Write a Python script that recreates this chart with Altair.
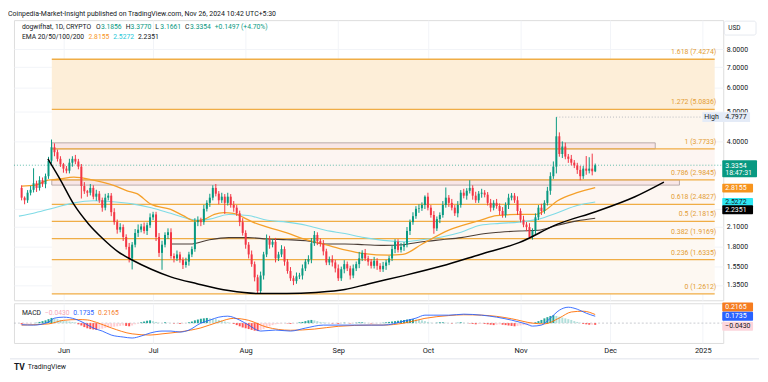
import altair as alt
import numpy as np
import pandas as pd

# ---------------------------------------------------------------- data
START = "2024-05-18"          # first daily candle
first_open = 2.81
closes = [
    2.61, 2.56, 2.71, 2.77, 2.91, 2.81, 2.98, 2.89, 3.07, 3.45,
    3.82, 3.68, 3.50, 3.36, 3.25, 3.20, 3.40, 3.50, 3.43, 3.30,
    2.85, 2.74, 2.71, 2.81, 2.63, 2.69, 2.56, 2.42, 2.61, 2.65,
    2.34, 2.17, 2.05, 2.09, 1.94, 1.80, 1.65, 1.83, 2.00, 2.05,
    2.10, 2.03, 2.12, 2.25, 2.30, 1.94, 1.72, 1.83, 1.97, 2.01,
    1.68, 1.65, 1.70, 1.63, 1.57, 1.61, 1.70, 1.77, 2.17, 2.20,
    2.17, 2.40, 2.51, 2.61, 2.81, 2.69, 2.56, 2.63, 2.51, 2.63,
    2.47, 2.42, 2.32, 2.17, 2.00, 1.83, 1.70, 1.58, 1.43, 1.29,
    1.45, 1.70, 1.90, 1.83, 1.87, 1.65, 1.70, 1.77, 1.61, 1.50,
    1.42, 1.39, 1.44, 1.45, 1.53, 1.61, 1.64, 1.85, 1.97, 1.88,
    1.84, 1.74, 1.60, 1.64, 1.60, 1.53, 1.42, 1.52, 1.58, 1.53,
    1.45, 1.53, 1.58, 1.65, 1.72, 1.65, 1.61, 1.56, 1.62, 1.56,
    1.52, 1.56, 1.60, 1.65, 1.77, 1.87, 1.76, 1.80, 1.83, 2.03,
    2.17, 2.27, 2.40, 2.41, 2.47, 2.63, 2.42, 2.29, 2.07, 2.22,
    2.29, 2.47, 2.61, 2.51, 2.42, 2.32, 2.47, 2.71, 2.65, 2.75,
    2.81, 2.65, 2.56, 2.69, 2.71, 2.67, 2.51, 2.42, 2.51, 2.45,
    2.36, 2.29, 2.47, 2.61, 2.65, 2.56, 2.36, 2.21, 2.13, 2.09,
    1.94, 2.03, 2.25, 2.42, 2.36, 2.51, 2.75, 3.07, 3.30, 4.15,
    3.63, 3.84, 3.56, 3.50, 3.40, 3.33, 3.22, 3.07, 3.25, 3.20,
    3.25, 3.1856, 3.3354,
]
upper_wick_pct = [
    2, 1, 2, 3, 12, 2, 3, 2, 2, 3,
    6, 3, 2, 2, 1, 2, 3, 2, 3, 2,
    2, 3, 1, 3, 2, 3, 2, 2, 3, 2,
    2, 3, 2, 3, 2, 2, 3, 2, 3, 4,
    2, 3, 2, 3, 2, 2, 3, 3, 2, 3,
    3, 2, 3, 2, 2, 3, 2, 2, 3, 3,
    2, 3, 2, 3, 2, 3, 2, 3, 2, 3,
    2, 3, 2, 2, 3, 2, 2, 3, 2, 2,
    3, 2, 4, 3, 2, 3, 2, 3, 2, 2,
    3, 2, 3, 2, 3, 2, 3, 4, 3, 2,
    2, 3, 2, 2, 3, 2, 3, 2, 3, 2,
    2, 3, 2, 5, 2, 3, 2, 2, 3, 2,
    2, 3, 2, 2, 3, 2, 2, 3, 2, 3,
    2, 3, 2, 3, 2, 1, 3, 2, 3, 2,
    2, 3, 8, 2, 3, 2, 3, 2, 3, 2,
    6, 2, 3, 2, 3, 2, 2, 3, 2, 3,
    2, 3, 2, 3, 2, 2, 3, 2, 3, 2,
    3, 2, 3, 2, 3, 2, 3, 3, 4, 15.6,
    3, 4, 3, 2, 3, 2, 2, 3, 2, 10,
    9, 12, 1.25,
]
lower_wick_pct = [
    2, 3, 2, 2, 2, 3, 2, 2, 3, 2,
    2, 3, 2, 2, 3, 2, 2, 3, 2, 2,
    9, 2, 3, 2, 2, 3, 2, 3, 2, 2,
    3, 2, 3, 2, 3, 2, 3, 8, 2, 3,
    2, 2, 3, 2, 2, 3, 3, 12, 2, 3,
    2, 3, 2, 2, 3, 2, 3, 2, 2, 3,
    3, 2, 2, 3, 2, 2, 3, 2, 8, 2,
    2, 3, 2, 3, 2, 3, 3, 2, 3, 2.2,
    2, 3, 2, 3, 2, 3, 2, 2, 3, 2,
    2, 3, 2, 2, 3, 2, 2, 3, 2, 3,
    2, 3, 2, 2, 3, 3, 2, 2, 3, 2,
    3, 2, 2, 3, 2, 2, 3, 2, 2, 3,
    2, 2, 3, 2, 2, 3, 2, 2, 3, 2,
    3, 2, 2, 3, 2, 3, 2, 2, 4, 2,
    3, 2, 2, 3, 2, 2, 3, 2, 2, 3,
    2, 3, 2, 2, 3, 2, 2, 3, 2, 2,
    3, 2, 2, 3, 2, 2, 3, 2, 2, 3,
    1, 2, 3, 2, 3, 2, 2, 3, 2, 5,
    2, 3, 2, 3, 2, 2, 3, 3, 2, 3,
    2, 3, 0.6,
]

ema_orange_days = [0, 4.6, 8.8, 12, 17.5, 24, 30.5, 35.3, 38.6, 43.4, 49.9, 54.1, 58, 61.3, 64.5,
                   67.7, 70.9, 74.2, 77.4, 82.3, 88.8, 95.3, 101.7, 108.2, 114.7, 122.8, 127.6,
                   134.1, 142.8, 153.5, 159, 166.5, 172, 175.2, 179.4, 185.9, 192]
ema_orange_vals = [2.85, 2.87, 2.98, 3.00, 3.05, 2.98, 2.87, 2.75, 2.69, 2.48, 2.39, 2.28, 2.19, 2.22, 2.30,
                   2.33, 2.32, 2.25, 2.17, 2.09, 2.00, 1.90, 1.83, 1.76, 1.71, 1.69, 1.70,
                   1.84, 2.04, 2.20, 2.28, 2.30, 2.30, 2.37, 2.55, 2.71, 2.8155]
ema_cyan_days = [-0.9, 4.6, 11.1, 17.5, 24, 30.5, 37, 43.4, 49.9, 56.4, 59.6, 62.9, 69.3, 75.8, 82.3,
                 88.8, 95.2, 101.7, 108.2, 114.7, 121.1, 127.6, 134.1, 140.6, 147.1, 153.5, 160,
                 166.5, 173, 179.4, 185.9, 192]
ema_cyan_vals = [2.27, 2.33, 2.42, 2.51, 2.55, 2.53, 2.49, 2.42, 2.32, 2.22, 2.20, 2.22, 2.30, 2.28, 2.20,
                 2.17, 2.12, 2.04, 1.99, 1.93, 1.89, 1.87, 1.90, 1.94, 2.01, 2.12, 2.15,
                 2.17, 2.22, 2.33, 2.46, 2.5272]
ema_dark_days = [49.9, 56.4, 62.9, 69.3, 75.8, 82.3, 88.8, 95.2, 101.7, 108.2, 114.7, 121.1, 127.6,
                 134.1, 140.6, 147.1, 153.5, 160, 166.5, 173, 179.4, 185.9, 192]
ema_dark_vals = [1.84, 1.84, 1.90, 1.93, 1.93, 1.91, 1.90, 1.885, 1.84, 1.84, 1.83, 1.82, 1.83,
                 1.87, 1.90, 1.93, 1.98, 2.01, 2.03, 2.04, 2.12, 2.19, 2.2351]

curve_days = [8.8, 12.7, 17.5, 22.4, 27.3, 32.1, 37, 43.4, 49.9, 58.7, 69.3, 79, 88.8, 98.5, 108.2,
              116.3, 127.6, 140.6, 153.5, 166.5, 179.4, 192.4, 205.3, 215]
curve_vals = [3.50, 3.02, 2.48, 2.14, 1.91, 1.74, 1.63, 1.52, 1.435, 1.363, 1.294, 1.266, 1.266, 1.276,
              1.304, 1.363, 1.446, 1.557, 1.70, 1.858, 2.137, 2.352, 2.628, 2.935]

macd_days = [0, 4, 9, 11, 14, 18, 21, 24, 27, 30, 34, 37, 40, 43, 47, 50, 53, 56, 60, 63, 66, 69, 73,
             76, 80, 85, 90, 95, 101, 106, 112, 117, 121, 128, 132, 135, 138, 143, 148, 154, 159, 164,
             169, 171, 174, 177, 180, 183, 186, 189, 192]
macd_vals = [-0.04, -0.05, 0.025, 0.125, 0.15, 0.10, 0.0, -0.125, -0.2, -0.3, -0.35, -0.375, -0.325,
             -0.25, -0.2, -0.2, -0.225, -0.175, 0.0, 0.075, 0.15, 0.175, 0.075, -0.05, -0.2, -0.175,
             -0.2, -0.125, -0.05, -0.05, -0.05, -0.05, -0.05, 0.05, 0.125, 0.2, 0.2, 0.2, 0.225, 0.2,
             0.15, 0.075, -0.025, -0.075, -0.05, 0.125, 0.325, 0.4, 0.35, 0.25, 0.1735]
signal_days = [0, 9, 14, 19, 22, 25, 30, 37, 43, 47, 53, 60, 66, 71, 76, 82, 90, 98, 106, 117, 121,
               128, 135, 143, 148, 154, 159, 164, 171, 175, 180, 184, 188, 192]
signal_vals = [-0.05, -0.02, 0.07, 0.09, 0.08, 0.02, -0.12, -0.27, -0.30, -0.27, -0.22, -0.12, 0.03,
               0.12, 0.07, -0.10, -0.18, -0.15, -0.08, -0.05, -0.05, 0.0, 0.12, 0.19, 0.21, 0.20,
               0.17, 0.11, 0.0, -0.02, 0.13, 0.28, 0.30, 0.2165]
hist_vals = [
    -0.03, -0.02, -0.02, -0.01, 0.0, 0.01, 0.03, 0.05, 0.07, 0.10,
    0.13, 0.12, 0.10, 0.08, 0.06, 0.05, 0.04, 0.03, 0.02, -0.03,
    -0.06, -0.10, -0.13, -0.15, -0.16, -0.17, -0.15, -0.14, -0.12, -0.11,
    -0.10, -0.09, -0.08, -0.07, -0.06, -0.07, -0.08, -0.06, -0.03, -0.01,
    0.02, 0.04, 0.06, 0.07, 0.05, 0.03, 0.01, 0.0, 0.02, 0.01,
    0.0, -0.01, -0.01, -0.02, -0.01, 0.0, 0.02, 0.04, 0.07, 0.09,
    0.11, 0.12, 0.13, 0.12, 0.11, 0.10, 0.08, 0.06, 0.04, 0.02,
    0.0, -0.02, -0.05, -0.08, -0.11, -0.13, -0.15, -0.17, -0.19, -0.20,
    -0.18, -0.15, -0.12, -0.08, -0.05, -0.03, -0.02, -0.01, 0.0, -0.01,
    -0.02, -0.01, 0.0, 0.02, 0.03, 0.05, 0.07, 0.08, 0.07, 0.05,
    0.03, 0.02, 0.01, 0.0, -0.01, -0.01, -0.02, 0.0, 0.01, 0.0,
    -0.01, 0.0, 0.01, 0.02, 0.02, 0.01, 0.0, -0.01, -0.01, 0.0,
    0.0, 0.01, 0.02, 0.03, 0.04, 0.05, 0.06, 0.07, 0.08, 0.09,
    0.10, 0.10, 0.09, 0.08, 0.07, 0.05, 0.03, 0.01, 0.0, 0.01,
    0.02, 0.02, 0.01, 0.0, -0.01, 0.0, 0.01, 0.02, 0.01, 0.0,
    -0.01, -0.02, -0.03, -0.02, -0.01, -0.02, -0.03, -0.04, -0.05, -0.04,
    -0.03, -0.04, -0.05, -0.06, -0.07, -0.08, -0.07, -0.06, -0.05, -0.05,
    -0.04, -0.02, 0.02, 0.05, 0.08, 0.12, 0.15, 0.18, 0.20, 0.18,
    0.16, 0.14, 0.12, 0.10, 0.08, 0.05, 0.03, 0.01, -0.02, -0.03,
    -0.04, -0.04, -0.043,
]

fib_ratios = ["0", "0.236", "0.382", "0.5", "0.618", "0.786", "1", "1.272", "1.618"]
fib_prices = [1.2612, 1.6335, 1.9169, 2.1815, 2.4827, 2.9845, 3.7733, 5.0836, 7.4274]
fib_start_day, fib_end_day = 10.1, 232.0

zone_lows = [3.7733, 2.8700]
zone_highs = [3.9500, 2.9845]
zone_end_days = [212.1, 220.2]

price_ticks = [8, 7, 6, 5, 4, 2.4, 2.1, 1.8, 1.55, 1.35]
month_starts = ["2024-06-01", "2024-07-01", "2024-08-01", "2024-09-01", "2024-10-01",
                "2024-11-01", "2024-12-01", "2025-01-01"]

last_close = 3.3354
countdown = "18:47:31"
high_price, high_day = 4.7977, 179
ema_last = [2.8155, 2.5272, 2.2351]
macd_hist_last, macd_last, signal_last = -0.0430, 0.1735, 0.2165

header = "Coinpedia-Market-Insight published on TradingView.com, Nov 26, 2024 10:42 UTC+5:30"
legend1 = [("dogwifhat, 1D, CRYPTO", "d"), ("O", "d"), ("3.1856", "g"), ("H", "d"), ("3.3770", "g"),
           ("L", "d"), ("3.1661", "g"), ("C", "d"), ("3.3354", "g"), ("+0.1497 (+4.70%)", "g")]
legend2 = [("EMA 20/50/100/200", "d"), ("2.8155", "o"), ("2.5272", "c"), ("2.2351", "d")]

# ---------------------------------------------------------------- style
W, H1, H2 = 714, 282, 40
FONT = "Roboto"
DARK = "#131722"
UP, DOWN = "#089981", "#f23645"
GRID = "#f2f4f8"
FIB_LINE = "#f0ad45"
FIB_TEXT = "#e39d35"
ORANGE, CYAN, BROWN = "#f5a02a", "#7fdbe6", "#4a3d36"
band_fills = ["#fdf8f2", "#fdf8f2", "#fdf7f2", "#fdf7f3", "#fdf6f2", "#fdf5f2", "#fdf6ee", "#fdeed8"]


def ms(d):
    return int((pd.Timestamp(START, tz="UTC") + pd.Timedelta(days=float(d))).value // 10**6)


def day_of(s):
    return (pd.Timestamp(s, tz="UTC") - pd.Timestamp(START, tz="UTC")).days


month_ms = [ms(day_of(s)) for s in month_starts]
xscale = alt.Scale(type="utc", domain=[ms(-0.9), ms(233.2)], nice=False)
xaxis_main = alt.Axis(values=month_ms, labels=False, ticks=False, domain=False, grid=True,
                      gridColor=GRID, title=None)
xaxis_macd = alt.Axis(values=month_ms, ticks=False, domain=False, grid=True, gridColor=GRID,
                      title=None, labelFont=FONT, labelFontSize=7.5, labelColor=DARK,
                      labelPadding=4, labelOverlap=False, labelFlush=False,
                      labelExpr="utcFormat(datum.value, '%b') == 'Jan' ? utcFormat(datum.value, '%Y') : utcFormat(datum.value, '%b')")
yscale = alt.Scale(type="log", domain=[1.2025, 9.98], nice=False, zero=False)
yaxis = alt.Axis(orient="right", values=price_ticks, format=".4f", labelFont=FONT, labelFontSize=7,
                 labelColor=DARK, ticks=False, domain=False, grid=True, gridColor=GRID,
                 labelPadding=3, labelOverlap=False, title=None)
mscale = alt.Scale(domain=[-0.5, 0.5], nice=False, zero=False)


def X(f):
    return alt.X(f, type="temporal", scale=xscale, axis=xaxis_main)


def XM(f):
    return alt.X(f, type="temporal", scale=xscale, axis=xaxis_macd)


def Y(f):
    return alt.Y(f, type="quantitative", scale=yscale, axis=yaxis)


def YM(f):
    return alt.Y(f, type="quantitative", scale=mscale, axis=None)


ONE = pd.DataFrame({"a": [0]})

CW = {"i": 0.243, "l": 0.243, "f": 0.347, "t": 0.327, "w": 0.75, "m": 0.876, "r": 0.338, " ": 0.248,
      ".": 0.263, ",": 0.196, "(": 0.342, ")": 0.348, "+": 0.567, "%": 0.733, "/": 0.412, "-": 0.276,
      ":": 0.242, "I": 0.279, "M": 0.873, "W": 0.887, "j": 0.24}


def tw(s, fs):
    tot = 0.0
    for ch in s:
        if ch.isdigit():
            tot += 0.562
        elif ch in CW:
            tot += CW[ch]
        elif ch.isupper():
            tot += 0.65
        else:
            tot += 0.54
    return tot * fs


def label(txt, x, y, color, fs=7, align="left", weight="normal"):
    return alt.Chart(ONE).mark_text(align=align, baseline="middle", fontSize=fs, font=FONT,
                                    color=color, fontWeight=weight).encode(
        x=alt.value(x), y=alt.value(y), text=alt.value(txt))


# ---------------------------------------------------------------- main pane
opens = [first_open] + closes[:-1]
candles = pd.DataFrame({
    "t": [ms(i) for i in range(len(closes))],
    "open": opens,
    "close": closes,
})
candles["high"] = [max(o, c) * (1 + u / 100) for o, c, u in zip(opens, closes, upper_wick_pct)]
candles["low"] = [min(o, c) * (1 - l / 100) for o, c, l in zip(opens, closes, lower_wick_pct)]
candles["col"] = np.where(candles["close"] >= candles["open"], UP, DOWN)

fib = pd.DataFrame({"price": fib_prices,
                    "label": [f"{r} ({p:.4f})" for r, p in zip(fib_ratios, fib_prices)]})
fib["t0"], fib["t1"] = ms(fib_start_day), ms(fib_end_day)
bands = pd.DataFrame({"lo": fib_prices[:-1], "hi": fib_prices[1:], "fill": band_fills})
bands["t0"], bands["t1"] = ms(fib_start_day), ms(fib_end_day)
zones = pd.DataFrame({"lo": zone_lows, "hi": zone_highs, "t1": [ms(d) for d in zone_end_days]})
zones["t0"] = ms(fib_start_day)


def series(days, vals):
    return pd.DataFrame({"t": [ms(d) for d in days], "v": vals})


layers = [
    alt.Chart(bands).mark_rect().encode(x=X("t0"), x2="t1", y=Y("lo"), y2="hi",
                                         color=alt.Color("fill:N", scale=None)),
    alt.Chart(zones).mark_rect(fill="#f8e6e6", stroke="#a99b9b", strokeWidth=0.8).encode(
        x=X("t0"), x2="t1", y=Y("lo"), y2="hi"),
    alt.Chart(fib).mark_rule(color=FIB_LINE, strokeWidth=1.3).encode(x=X("t0"), x2="t1", y=Y("price")),
    alt.Chart(series(ema_dark_days, ema_dark_vals)).mark_line(
        color=BROWN, strokeWidth=1.1, interpolate="monotone").encode(x=X("t"), y=Y("v")),
    alt.Chart(series(ema_cyan_days, ema_cyan_vals)).mark_line(
        color=CYAN, strokeWidth=1.1, interpolate="monotone").encode(x=X("t"), y=Y("v")),
    alt.Chart(series(ema_orange_days, ema_orange_vals)).mark_line(
        color=ORANGE, strokeWidth=1.3, interpolate="monotone").encode(x=X("t"), y=Y("v")),
    alt.Chart(pd.DataFrame({"p": [last_close]})).mark_rule(
        color=UP, strokeDash=[1, 2], strokeWidth=0.8, opacity=0.8).encode(
        x=alt.value(0), x2=alt.value(W), y=Y("p")),
    alt.Chart(pd.DataFrame({"p": [high_price], "t": [ms(high_day)]})).mark_rule(
        color="#9aa0ab", strokeDash=[1, 2], strokeWidth=0.7).encode(
        x=X("t"), x2=alt.value(W - 21), y=Y("p")),
    alt.Chart(candles).mark_rule(strokeWidth=1).encode(
        x=X("t"), y=Y("low"), y2="high", color=alt.Color("col:N", scale=None)),
    alt.Chart(candles).mark_bar(size=2).encode(
        x=X("t"), y=Y("open"), y2="close", color=alt.Color("col:N", scale=None)),
    alt.Chart(series(curve_days, curve_vals)).mark_line(
        color="#000000", strokeWidth=1.5, interpolate="monotone").encode(x=X("t"), y=Y("v")),
    alt.Chart(fib).mark_text(align="right", baseline="middle", dy=-7, fontSize=7, font=FONT,
                             color=FIB_TEXT).encode(x=alt.value(W - 7), y=Y("price"), text="label:N"),
]

# price-scale tags
def tag(price, fill, txt_color, y_off, y2_off, dy, x2=W + 30, extra=None):
    d = pd.DataFrame({"p": [price], "txt": [f"{price:.4f}"]})
    out = [
        alt.Chart(d).mark_rect(fill=fill, yOffset=y_off, y2Offset=y2_off, cornerRadius=1).encode(
            x=alt.value(W - 1), x2=alt.value(x2), y=Y("p"), y2="p"),
        alt.Chart(d).mark_text(align="left", baseline="middle", fontSize=7, font=FONT,
                               color=txt_color, dy=dy).encode(x=alt.value(W + 2), y=Y("p"), text="txt:N"),
    ]
    if extra:
        out.append(alt.Chart(d).mark_text(align="left", baseline="middle", fontSize=7, font=FONT,
                                          color=txt_color, dy=dy + 7).encode(
            x=alt.value(W + 2), y=Y("p"), text=alt.value(extra)))
    return out


hp = pd.DataFrame({"p": [high_price], "txt": [f"{high_price:.4f}"]})
layers += [
    alt.Chart(hp).mark_rect(fill="#e4ebf7", yOffset=-5, y2Offset=5).encode(
        x=alt.value(W - 21), x2=alt.value(W + 27), y=Y("p"), y2="p"),
    alt.Chart(hp).mark_text(align="left", baseline="middle", fontSize=7, font=FONT, color=DARK).encode(
        x=alt.value(W - 19), y=Y("p"), text=alt.value("High")),
    alt.Chart(hp).mark_text(align="left", baseline="middle", fontSize=7, font=FONT, color=DARK).encode(
        x=alt.value(W + 2), y=Y("p"), text="txt:N"),
]
layers += tag(last_close, UP, "white", -5, 12, 0.5, x2=W + 34, extra=countdown)
layers += tag(ema_last[0], "#f7941d", "white", -4, 5, 0.5)
layers += tag(ema_last[1], "#2ee6f2", DARK, -4, 4, 0)
layers += tag(ema_last[2], "#000000", "white", -13, -4, -8.5)

# USD box
layers += [
    alt.Chart(ONE).mark_rect(fill="white", stroke="#e0e3eb", strokeWidth=0.8, cornerRadius=2).encode(
        x=alt.value(W + 1), x2=alt.value(W + 33), y=alt.value(1), y2=alt.value(15)),
    label("USD", W + 5, 8, DARK, fs=6.5),
]

# legend rows
cmap = {"d": DARK, "g": UP, "o": "#f7941d", "c": "#1fc8d8"}
x = 8.0
for i, (txt, c) in enumerate(legend1):
    if i > 0:
        x += 0.6 if legend1[i - 1][1] == "d" and c == "g" and len(legend1[i - 1][0]) == 1 else 4.0
    layers.append(label(txt, x, 7, cmap[c], fs=6.8))
    x += tw(txt, 6.8)
x = 8.0
for i, (txt, c) in enumerate(legend2):
    if i > 0:
        x += 4.0
    layers.append(label(txt, x, 17, cmap[c], fs=6.8))
    x += tw(txt, 6.8)

main = alt.layer(*layers).properties(width=W, height=H1)

# ---------------------------------------------------------------- MACD pane
hist = pd.DataFrame({"t": [ms(i) for i in range(len(hist_vals))], "h": hist_vals, "z": 0.0})
cols = []
prev = 0.0
for h in hist_vals:
    if h >= 0:
        cols.append("#26a69a" if h >= prev else "#b2dfdb")
    else:
        cols.append("#ff5252" if h < prev else "#ffcdd2")
    prev = h
hist["col"] = cols

mlayers = [
    alt.Chart(pd.DataFrame({"z": [0.0]})).mark_rule(color="#b2b5be", strokeDash=[2, 2], strokeWidth=0.7).encode(
        x=alt.value(0), x2=alt.value(W), y=YM("z")),
    alt.Chart(hist).mark_bar(size=2).encode(x=XM("t"), y=YM("h"), y2="z",
                                            color=alt.Color("col:N", scale=None)),
    alt.Chart(series(signal_days, signal_vals)).mark_line(
        color="#ff6d00", strokeWidth=0.9, interpolate="monotone").encode(x=XM("t"), y=YM("v")),
    alt.Chart(series(macd_days, macd_vals)).mark_line(
        color="#2962ff", strokeWidth=0.9, interpolate="monotone").encode(x=XM("t"), y=YM("v")),
]


def mtag(v, fill, tcol, y_off, y2_off, dy):
    d = pd.DataFrame({"p": [v], "txt": [f"{v:.4f}".replace("-", "\u2212")]})
    return [
        alt.Chart(d).mark_rect(fill=fill, yOffset=y_off, y2Offset=y2_off, cornerRadius=1).encode(
            x=alt.value(W - 1), x2=alt.value(W + 30), y=YM("p"), y2="p"),
        alt.Chart(d).mark_text(align="left", baseline="middle", fontSize=7, font=FONT, color=tcol,
                               dy=dy).encode(x=alt.value(W + 2), y=YM("p"), text="txt:N"),
    ]


mlayers += mtag(signal_last, "#f57c1f", "white", -12, -3, -7.5)
mlayers += mtag(macd_last, "#2962ff", "white", -4.5, 4.5, 0)
mlayers += mtag(macd_hist_last, "#fcd5dc", DARK, -3, 6, 1.5)

mx = 8.0
for txt, c in [("MACD", DARK), (f"{macd_hist_last:.4f}".replace("-", "\u2212"), "#f7a8b8"),
               (f"{macd_last:.4f}", "#2962ff"), (f"{signal_last:.4f}", "#f57c1f")]:
    mlayers.append(label(txt, mx, 10, c, fs=6.8))
    mx += tw(txt, 6.8) + 4

mlayers += [
    alt.Chart(ONE).mark_rule(color="#e0e3eb", strokeWidth=1).encode(
        x=alt.value(-4), x2=alt.value(W + 36), y=alt.value(H2 + 16), y2=alt.value(H2 + 16)),
    label("TV", 0, H2 + 24, DARK, fs=8.5, weight="bold"),
    label("TradingView", 14, H2 + 24, DARK, fs=7),
]

macd = alt.layer(*mlayers).properties(width=W, height=H2)

chart = alt.vconcat(main, macd, spacing=0).properties(
    padding=0,
    title=alt.TitleParams(header, anchor="start", fontSize=7, font=FONT, fontWeight="normal",
                          color=DARK, offset=3, dx=-1),
).configure_view(stroke="#e0e3eb", strokeWidth=1).configure(font=FONT)

chart.save("out.html", embed_options={"renderer": "svg", "actions": False})
